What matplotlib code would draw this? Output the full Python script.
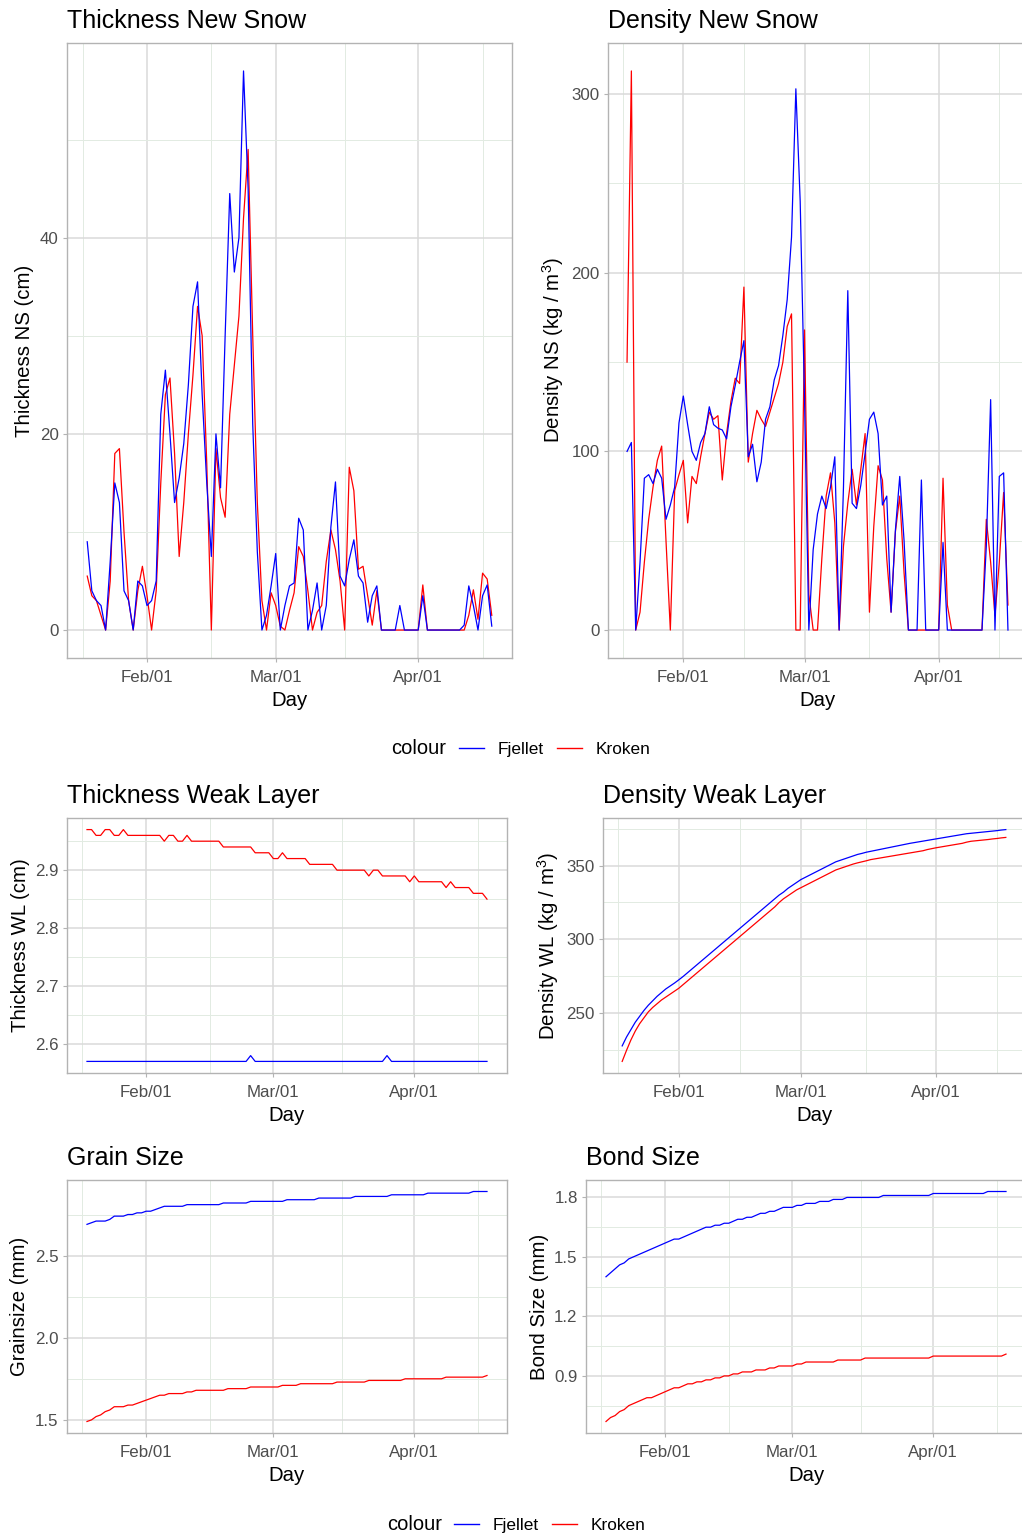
import matplotlib
matplotlib.use('Agg')
import matplotlib.pyplot as plt
import matplotlib.dates as mdates
from matplotlib.lines import Line2D
from matplotlib.ticker import FormatStrFormatter
import pandas as pd

plt.rcParams['font.family'] = ['Liberation Sans', 'DejaVu Sans']
plt.rcParams['mathtext.fontset'] = 'custom'
plt.rcParams['mathtext.rm'] = 'Liberation Sans'
plt.rcParams['mathtext.default'] = 'regular'

W, H = 1022, 1537

# daily values, 19 Jan - 17 Apr
days = pd.date_range('2019-01-19', periods=89, freq='D')

thick_ns_fjellet = [
    9.0, 4.0, 3.0, 2.5, 0.0, 7.0, 15.0, 13.0, 4.0, 3.0,
    0.0, 5.0, 4.5, 2.5, 3.0, 5.0, 22.0, 26.5, 20.0, 13.0,
    15.5, 19.0, 25.0, 33.0, 35.5, 24.0, 15.0, 7.5, 20.0, 14.5,
    30.0, 44.5, 36.5, 40.0, 57.0, 45.0, 21.0, 8.0, 0.0, 1.5,
    4.5, 7.8, 0.0, 2.5, 4.5, 4.8, 11.4, 10.2, 0.0, 2.0,
    4.8, 0.0, 2.5, 10.5, 15.1, 5.5, 4.5, 7.2, 9.2, 5.5,
    4.8, 0.8, 3.5, 4.5, 0.0, 0.0, 0.0, 0.0, 2.5, 0.0,
    0.0, 0.0, 0.0, 3.5, 0.0, 0.0, 0.0, 0.0, 0.0, 0.0,
    0.0, 0.0, 0.5, 4.5, 2.5, 0.0, 3.5, 4.6, 0.4]
thick_ns_kroken = [
    5.5, 3.5, 3.0, 1.5, 0.0, 5.0, 18.0, 18.5, 10.0, 3.0,
    0.0, 4.0, 6.5, 3.5, 0.0, 4.0, 15.0, 24.0, 25.7, 18.0,
    7.5, 13.0, 20.0, 26.0, 33.0, 30.0, 17.0, 0.0, 18.5, 13.5,
    11.5, 22.0, 27.0, 32.0, 42.0, 49.0, 30.0, 13.0, 3.0, 0.0,
    3.8, 2.5, 0.4, 0.0, 2.0, 3.8, 8.5, 7.5, 4.0, 0.0,
    1.8, 2.5, 7.0, 10.2, 8.2, 5.0, 0.0, 16.6, 14.2, 6.2,
    6.5, 3.5, 0.5, 4.0, 0.0, 0.0, 0.0, 0.0, 0.0, 0.0,
    0.0, 0.0, 0.0, 4.6, 0.0, 0.0, 0.0, 0.0, 0.0, 0.0,
    0.0, 0.0, 0.0, 1.5, 4.1, 1.1, 5.8, 5.2, 1.5]

dens_ns_fjellet = [
    100, 105, 0, 38, 85, 87, 82, 90, 85, 62,
    70, 80, 116, 131, 115, 100, 95, 105, 110, 125,
    115, 113, 112, 107, 125, 137, 150, 162, 97, 104,
    83, 94, 118, 125, 140, 148, 165, 185, 220, 303,
    240, 130, 0, 45, 65, 75, 68, 80, 97, 0,
    80, 190, 71, 68, 81, 99, 118, 122, 110, 70,
    75, 10, 56, 86, 50, 0, 0, 0, 84, 0,
    0, 0, 0, 49, 0, 0, 0, 0, 0, 0,
    0, 0, 0, 47, 129, 0, 86, 88, 0]
dens_ns_kroken = [
    150, 313, 0, 10, 38, 62, 80, 95, 103, 50,
    0, 78, 87, 95, 60, 86, 82, 97, 110, 122,
    118, 120, 84, 110, 128, 141, 138, 192, 94, 110,
    123, 118, 114, 122, 130, 138, 150, 170, 177, 0,
    0, 168, 20, 0, 0, 40, 75, 88, 60, 0,
    47, 71, 90, 70, 90, 110, 10, 58, 92, 84,
    40, 10, 55, 75, 32, 0, 0, 0, 0, 0,
    0, 0, 0, 85, 14, 0, 0, 0, 0, 0,
    0, 0, 0, 62, 38, 8, 38, 77, 14]

thick_wl_fjellet = [2.57] * 36 + [2.58] + [2.57] * 29 + [2.58] + [2.57] * 22
thick_wl_kroken = [
    2.97, 2.97, 2.96, 2.96, 2.97, 2.97, 2.96, 2.96, 2.97, 2.96,
    2.96, 2.96, 2.96, 2.96, 2.96, 2.96, 2.96, 2.95, 2.96, 2.96,
    2.95, 2.95, 2.96, 2.95, 2.95, 2.95, 2.95, 2.95, 2.95, 2.95,
    2.94, 2.94, 2.94, 2.94, 2.94, 2.94, 2.94, 2.93, 2.93, 2.93,
    2.93, 2.92, 2.92, 2.93, 2.92, 2.92, 2.92, 2.92, 2.92, 2.91,
    2.91, 2.91, 2.91, 2.91, 2.91, 2.90, 2.90, 2.90, 2.90, 2.90,
    2.90, 2.90, 2.89, 2.90, 2.90, 2.89, 2.89, 2.89, 2.89, 2.89,
    2.89, 2.88, 2.89, 2.88, 2.88, 2.88, 2.88, 2.88, 2.88, 2.87,
    2.88, 2.87, 2.87, 2.87, 2.87, 2.86, 2.86, 2.86, 2.85]

dens_wl_fjellet = [
    228, 234, 239, 244, 248, 252, 255.5, 258.5, 261.5, 264,
    266.5, 268.5, 270.5, 272.7, 275, 277.5, 280, 282.5, 285, 287.5,
    290, 292.5, 295, 297.5, 300, 302.5, 305, 307.5, 310, 312.5,
    315, 317.5, 320, 322.5, 325, 327.5, 330, 332, 334.5, 336.5,
    338.5, 340.5, 342, 343.5, 345, 346.5, 348, 349.5, 351, 352.5,
    353.5, 354.5, 355.5, 356.5, 357.5, 358.2, 359, 359.6, 360.2, 360.8,
    361.4, 362, 362.6, 363.2, 363.8, 364.4, 365, 365.5, 366, 366.5,
    367, 367.5, 368, 368.5, 369, 369.5, 370, 370.5, 371, 371.5,
    371.8, 372.1, 372.4, 372.7, 373, 373.3, 373.6, 374, 374.3]
dens_wl_kroken = [
    217.5, 225, 232, 238, 243, 247, 251, 254, 256.5, 259,
    261, 263, 265, 267, 269.5, 272, 274.5, 277, 279.5, 282,
    284.5, 287, 289.5, 292, 294.5, 297, 299.5, 302, 304.5, 307,
    309.5, 312, 314.5, 317, 319.5, 322, 325, 327.5, 329.5, 331.5,
    333.5, 335, 336.5, 338, 339.5, 341, 342.5, 344, 345.5, 347,
    348, 349, 350, 351, 351.8, 352.5, 353.2, 354, 354.5, 355,
    355.5, 356, 356.5, 357, 357.5, 358, 358.5, 359, 359.5, 360,
    360.8, 361.4, 362, 362.5, 363, 363.5, 364, 364.5, 365, 365.8,
    366.4, 366.7, 367, 367.3, 367.6, 368, 368.3, 368.7, 369]

grain_fjellet = [
    2.69, 2.70, 2.71, 2.71, 2.71, 2.72, 2.74, 2.74, 2.74, 2.75,
    2.75, 2.76, 2.76, 2.77, 2.77, 2.78, 2.79, 2.80, 2.80, 2.80,
    2.80, 2.80, 2.81, 2.81, 2.81, 2.81, 2.81, 2.81, 2.81, 2.81,
    2.82, 2.82, 2.82, 2.82, 2.82, 2.82, 2.83, 2.83, 2.83, 2.83,
    2.83, 2.83, 2.83, 2.83, 2.84, 2.84, 2.84, 2.84, 2.84, 2.84,
    2.84, 2.85, 2.85, 2.85, 2.85, 2.85, 2.85, 2.85, 2.85, 2.86,
    2.86, 2.86, 2.86, 2.86, 2.86, 2.86, 2.86, 2.87, 2.87, 2.87,
    2.87, 2.87, 2.87, 2.87, 2.87, 2.88, 2.88, 2.88, 2.88, 2.88,
    2.88, 2.88, 2.88, 2.88, 2.88, 2.89, 2.89, 2.89, 2.89]
grain_kroken = [
    1.49, 1.50, 1.52, 1.53, 1.55, 1.56, 1.58, 1.58, 1.58, 1.59,
    1.59, 1.60, 1.61, 1.62, 1.63, 1.64, 1.65, 1.65, 1.66, 1.66,
    1.66, 1.66, 1.67, 1.67, 1.68, 1.68, 1.68, 1.68, 1.68, 1.68,
    1.68, 1.69, 1.69, 1.69, 1.69, 1.69, 1.70, 1.70, 1.70, 1.70,
    1.70, 1.70, 1.70, 1.71, 1.71, 1.71, 1.71, 1.72, 1.72, 1.72,
    1.72, 1.72, 1.72, 1.72, 1.72, 1.73, 1.73, 1.73, 1.73, 1.73,
    1.73, 1.73, 1.74, 1.74, 1.74, 1.74, 1.74, 1.74, 1.74, 1.74,
    1.75, 1.75, 1.75, 1.75, 1.75, 1.75, 1.75, 1.75, 1.75, 1.76,
    1.76, 1.76, 1.76, 1.76, 1.76, 1.76, 1.76, 1.76, 1.77]

bond_fjellet = [
    1.40, 1.42, 1.44, 1.46, 1.47, 1.49, 1.50, 1.51, 1.52, 1.53,
    1.54, 1.55, 1.56, 1.57, 1.58, 1.59, 1.59, 1.60, 1.61, 1.62,
    1.63, 1.64, 1.65, 1.65, 1.66, 1.66, 1.67, 1.67, 1.68, 1.69,
    1.69, 1.70, 1.70, 1.71, 1.72, 1.72, 1.73, 1.73, 1.74, 1.75,
    1.75, 1.75, 1.76, 1.76, 1.77, 1.77, 1.77, 1.78, 1.78, 1.78,
    1.79, 1.79, 1.79, 1.80, 1.80, 1.80, 1.80, 1.80, 1.80, 1.80,
    1.80, 1.81, 1.81, 1.81, 1.81, 1.81, 1.81, 1.81, 1.81, 1.81,
    1.81, 1.81, 1.82, 1.82, 1.82, 1.82, 1.82, 1.82, 1.82, 1.82,
    1.82, 1.82, 1.82, 1.82, 1.83, 1.83, 1.83, 1.83, 1.83]
bond_kroken = [
    0.67, 0.69, 0.70, 0.72, 0.73, 0.75, 0.76, 0.77, 0.78, 0.79,
    0.79, 0.80, 0.81, 0.82, 0.83, 0.84, 0.84, 0.85, 0.86, 0.86,
    0.87, 0.87, 0.88, 0.88, 0.89, 0.89, 0.90, 0.90, 0.91, 0.91,
    0.92, 0.92, 0.92, 0.93, 0.93, 0.93, 0.94, 0.94, 0.95, 0.95,
    0.95, 0.95, 0.96, 0.96, 0.97, 0.97, 0.97, 0.97, 0.97, 0.97,
    0.97, 0.98, 0.98, 0.98, 0.98, 0.98, 0.98, 0.99, 0.99, 0.99,
    0.99, 0.99, 0.99, 0.99, 0.99, 0.99, 0.99, 0.99, 0.99, 0.99,
    0.99, 0.99, 1.00, 1.00, 1.00, 1.00, 1.00, 1.00, 1.00, 1.00,
    1.00, 1.00, 1.00, 1.00, 1.00, 1.00, 1.00, 1.00, 1.01]

month_ticks = pd.to_datetime(['2019-02-01', '2019-03-01', '2019-04-01'])
mid_ticks = pd.to_datetime(['2019-01-18', '2019-02-15', '2019-03-16', '2019-04-15'])

FJ_COL = '#0000ff'
KR_COL = '#ff0000'


def px_axes(fig, left, top, right, bottom):
    return fig.add_axes([left / W, 1 - bottom / H, (right - left) / W, (bottom - top) / H])


def panel(ax, fj, kr, title, ylabel, ymajor, yminor, fmt=None):
    ax.plot(days, kr, color=KR_COL, lw=0.9)
    ax.plot(days, fj, color=FJ_COL, lw=0.9)
    ax.set_title(title, loc='left', fontsize=18, pad=10.5)
    ax.set_xlabel('Day', fontsize=14.7, labelpad=4.5)
    ax.set_ylabel(ylabel, fontsize=14.7, labelpad=4)
    ax.set_yticks(ymajor)
    ax.set_yticks(yminor, minor=True)
    if fmt:
        ax.yaxis.set_major_formatter(FormatStrFormatter(fmt))
    ax.set_xticks(mdates.date2num(month_ticks))
    ax.set_xticks(mdates.date2num(mid_ticks), minor=True)
    ax.xaxis.set_major_formatter(mdates.DateFormatter('%b/%d'))
    ax.grid(which='major', color='#dadada', lw=1.1)
    ax.grid(which='minor', color='#e2ebe2', lw=0.7)
    ax.set_axisbelow(True)
    ax.tick_params(which='major', length=3, width=0.8, color='#b3b3b3',
                   labelsize=12.2, labelcolor='#4d4d4d')
    ax.tick_params(axis='x', which='major', pad=5.3)
    ax.tick_params(axis='y', which='major', pad=3)
    ax.tick_params(which='minor', length=0)
    for s in ax.spines.values():
        s.set_color('#b3b3b3')
        s.set_linewidth(1.0)


def legend_row(fig, xtext, xhandle, ypx):
    fig.text(xtext / W, 1 - ypx / H, 'colour', fontsize=14.5, va='center', ha='left')
    handles = [Line2D([], [], color=FJ_COL, lw=1.0), Line2D([], [], color=KR_COL, lw=1.0)]
    fig.legend(handles, ['Fjellet', 'Kroken'], ncol=2, frameon=False,
               loc='center left', bbox_to_anchor=(xhandle / W, 1 - ypx / H),
               fontsize=12.4, handlelength=1.45, handletextpad=0.8,
               columnspacing=0.75, borderpad=0, borderaxespad=0)


fig = plt.figure(figsize=(W / 100, H / 100), dpi=100)

ax1 = px_axes(fig, 67, 43, 512, 658)
panel(ax1, thick_ns_fjellet, thick_ns_kroken, 'Thickness New Snow', 'Thickness NS (cm)',
      [0, 20, 40], [10, 30, 50])

ax2 = px_axes(fig, 608, 43, 1027, 658)
panel(ax2, dens_ns_fjellet, dens_ns_kroken, 'Density New Snow', 'Density NS (kg / m$^3$)',
      [0, 100, 200, 300], [50, 150, 250])

legend_row(fig, 391, 459, 749)

ax3 = px_axes(fig, 67, 818, 507, 1073)
panel(ax3, thick_wl_fjellet, thick_wl_kroken, 'Thickness Weak Layer', 'Thickness WL (cm)',
      [2.6, 2.7, 2.8, 2.9], [2.65, 2.75, 2.85, 2.95], '%.1f')

ax4 = px_axes(fig, 603, 818, 1025, 1073)
panel(ax4, dens_wl_fjellet, dens_wl_kroken, 'Density Weak Layer', 'Density WL (kg / m$^3$)',
      [250, 300, 350], [225, 275, 325, 375])

ax5 = px_axes(fig, 67, 1180, 507, 1433)
panel(ax5, grain_fjellet, grain_kroken, 'Grain Size', 'Grainsize (mm)',
      [1.5, 2.0, 2.5], [1.75, 2.25, 2.75], '%.1f')

ax6 = px_axes(fig, 586, 1180, 1026, 1433)
panel(ax6, bond_fjellet, bond_kroken, 'Bond Size', 'Bond Size (mm)',
      [0.9, 1.2, 1.5, 1.8], [0.75, 1.05, 1.35, 1.65], '%.1f')

legend_row(fig, 387, 454, 1525)

fig.savefig('out.png', dpi=100)
